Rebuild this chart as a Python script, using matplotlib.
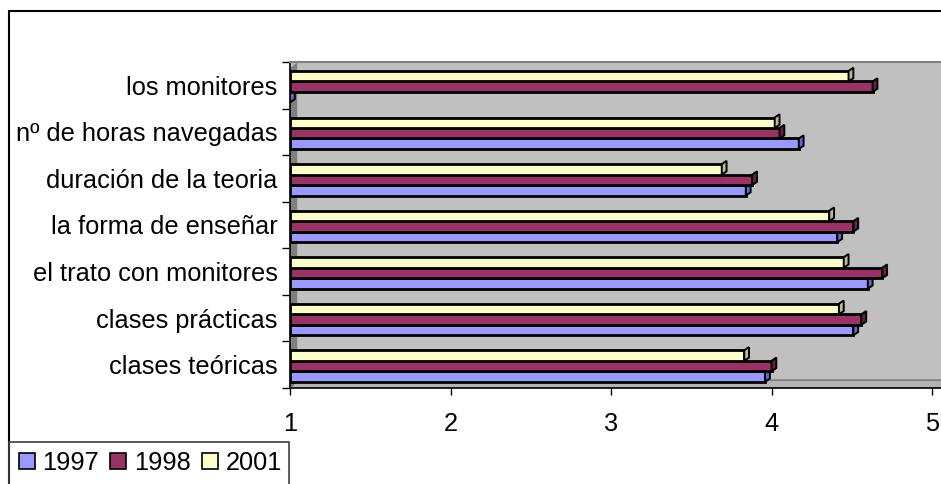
import numpy as np
import matplotlib.pyplot as plt
from matplotlib.patches import Rectangle, Polygon

categories = ["clases teóricas", "clases prácticas", "el trato con monitores",
              "la forma de enseñar", "duración de la teoria",
              "nº de horas navegadas", "los monitores"]
years = ["1997", "1998", "2001"]
values_1997 = [3.96, 4.51, 4.60, 4.41, 3.84, 4.17, 1.0]
values_1998 = [4.00, 4.56, 4.69, 4.51, 3.88, 4.05, 4.63]
values_2001 = [3.83, 4.42, 4.45, 4.36, 3.69, 4.02, 4.48]
xticks = [1, 2, 3, 4, 5]

COLORS = ["#9999FF", "#993366", "#FFFFCC"]
CAP_COLORS = ["#6666CC", "#66223F", "#BBBB99"]
FS = 18.3


def draw_bars(ax, series):
    """
    Draw the grouped horizontal bars with a small 3D end cap.
    """
    h = 0.225
    offsets = [-h, 0.0, h]
    dx, dy = 0.03, 0.07
    for k, vals in enumerate(series):
        for i, v in enumerate(vals):
            y0 = i + offsets[k] - h / 2 - 0.03
            ax.add_patch(Rectangle((1, y0), v - 1, h, facecolor=COLORS[k],
                                   edgecolor="black", lw=2.0, zorder=3))
            cap = [(v, y0), (v + dx, y0 + dy), (v + dx, y0 + h + dy), (v, y0 + h)]
            ax.add_patch(Polygon(cap, closed=True, facecolor=CAP_COLORS[k],
                                 edgecolor="black", lw=1.4, zorder=3))


def main():
    plt.rcParams['font.family'] = ['Liberation Sans', 'DejaVu Sans']
    fig = plt.figure(figsize=(9.41, 4.84), dpi=100)

    # outer chart border
    fig.patches.append(Rectangle((9 / 941, -0.1), 1.0, 1.1 - 11 / 484,
                                 transform=fig.transFigure, fill=False,
                                 edgecolor="black", lw=1.5))

    ax = fig.add_axes([290 / 941, 96 / 484, 651 / 941, 326 / 484])
    ax.set_facecolor("#C0C0C0")
    n = len(categories)
    ax.set_xlim(1, 1 + 651 / 160.5)
    ax.set_ylim(-0.5, n - 0.5)

    # left wall and floor of the 3D box
    wall = [(1, -0.5), (1.045, -0.33), (1.045, n - 0.5), (1, n - 0.64)]
    ax.add_patch(Polygon(wall, closed=True, facecolor="#808080",
                         edgecolor="none", zorder=1))
    floor = [(1, -0.5), (1.045, -0.33), (5.06, -0.33), (5.06, -0.5)]
    ax.add_patch(Polygon(floor, closed=True, facecolor="#B4B4B4",
                         edgecolor="#707070", lw=1.0, zorder=1))

    draw_bars(ax, [values_1997, values_1998, values_2001])

    ax.set_xticks(xticks)
    ax.set_xticklabels([str(t) for t in xticks], fontsize=FS)
    ax.tick_params(axis="x", length=5, width=1, pad=12)

    ax.set_yticks(np.arange(n + 1) - 0.5)
    ax.set_yticklabels([])
    ax.set_yticks(np.arange(n), minor=True)
    ax.set_yticklabels(categories, minor=True, fontsize=FS)
    ax.tick_params(axis="y", which="major", length=6, width=1)
    ax.tick_params(axis="y", which="minor", length=0, pad=9)

    ax.spines["top"].set_color("#808080")
    ax.spines["top"].set_linewidth(1.5)
    ax.spines["right"].set_visible(False)
    ax.spines["left"].set_linewidth(1.2)
    ax.spines["bottom"].set_linewidth(1.2)

    # legend box at the bottom left
    fig.patches.append(Rectangle((9 / 941, -0.1), 280 / 941, 0.1 + 42 / 484,
                                 transform=fig.transFigure, fill=False,
                                 edgecolor="#404040", lw=1.2))
    handles = [Rectangle((0, 0), 1, 1, facecolor=c, edgecolor="black", lw=1.2)
               for c in COLORS]
    fig.legend(handles, years, loc="center left",
               bbox_to_anchor=(19 / 941, 21 / 484), ncol=3, frameon=False,
               fontsize=FS, handlelength=0.62, handleheight=0.62,
               handletextpad=0.3, columnspacing=0.45, borderpad=0.0,
               borderaxespad=0.0)

    fig.savefig("out.png", dpi=100)
    plt.close(fig)


if __name__ == "__main__":
    main()
